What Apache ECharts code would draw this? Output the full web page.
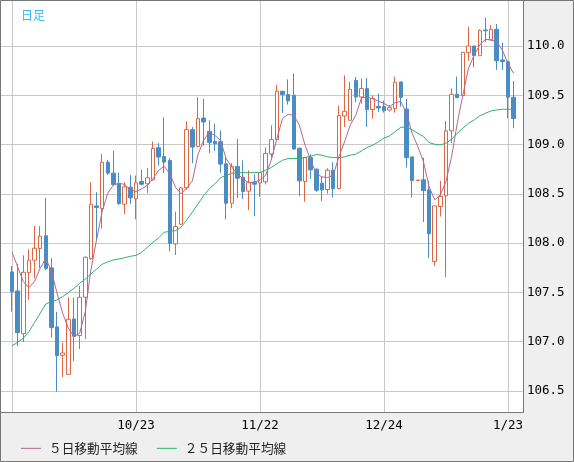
<!DOCTYPE html>
<html>
<head>
<meta charset="utf-8">
<script src="https://cdn.jsdelivr.net/npm/echarts@6/dist/echarts.min.js"></script>
<style>
html,body{margin:0;padding:0;background:#efefef;}
#chart{width:574px;height:462px;}
</style>
</head>
<body>
<div id="chart"></div>
<script>
const dates = [
'9/23','9/24','9/25','9/26','9/27',
'9/30','10/1','10/2','10/3','10/4',
'10/7','10/8','10/9','10/10','10/11',
'10/14','10/15','10/16','10/17','10/18',
'10/21','10/22','10/23','10/24','10/25',
'10/28','10/29','10/30','10/31','11/1',
'11/4','11/5','11/6','11/7','11/8',
'11/11','11/12','11/13','11/14','11/15',
'11/18','11/19','11/20','11/21','11/22',
'11/25','11/26','11/27','11/28','11/29',
'12/2','12/3','12/4','12/5','12/6',
'12/9','12/10','12/11','12/12','12/13',
'12/16','12/17','12/18','12/19','12/20',
'12/23','12/24','12/25','12/26','12/27',
'12/30','12/31','1/1','1/2','1/3',
'1/6','1/7','1/8','1/9','1/10',
'1/13','1/14','1/15','1/16','1/17',
'1/20','1/21','1/22','1/23','1/24'
];
const gridDates = ['9/23','10/23','11/22','12/24','1/23'];
const labelDates = ['10/23','11/22','12/24','1/23'];
const yTicks = [106.5,107.0,107.5,108.0,108.5,109.0,109.5,110.0];

const opens = [
107.708,107.515,107.082,107.701,107.827,107.945,108.074,107.749,107.150,106.862,
106.669,107.231,107.062,107.451,107.843,108.378,108.351,108.821,108.710,108.602,
108.395,108.567,108.449,108.625,108.602,108.642,108.968,108.880,108.839,107.992,
108.192,108.561,109.151,108.981,109.269,109.134,109.032,109.029,108.805,108.405,
108.778,108.669,108.527,108.619,108.611,108.622,108.905,109.051,109.541,109.507,
109.500,108.963,108.625,108.868,108.750,108.608,108.544,108.740,108.554,109.290,
109.246,109.652,109.483,109.568,109.355,109.388,109.385,109.351,109.365,109.635,
109.361,108.875,108.635,108.642,108.541,107.814,108.372,108.480,109.139,109.510,
109.497,109.932,110.000,109.902,110.162,110.061,110.169,109.858,109.841,109.480
];
const closes = [
107.508,107.092,107.705,107.827,107.948,108.070,107.742,107.143,106.859,106.886,
107.228,107.055,107.451,107.857,108.395,108.361,108.821,108.710,108.595,108.402,
108.571,108.460,108.612,108.598,108.663,108.961,108.873,108.822,107.998,108.168,
108.561,109.151,108.975,109.263,109.229,109.022,109.008,108.802,108.405,108.778,
108.659,108.524,108.619,108.598,108.716,108.909,109.051,109.541,109.507,109.443,
108.956,108.632,108.868,108.743,108.537,108.541,108.740,108.551,109.294,109.338,
109.561,109.483,109.568,109.355,109.466,109.371,109.345,109.375,109.632,109.480,
108.868,108.635,108.640,108.534,108.095,108.378,108.473,109.139,109.510,109.476,
109.936,110.000,109.902,110.155,110.155,110.169,109.851,109.841,109.480,109.264
];
const lows = [
107.305,106.957,106.997,107.427,107.644,107.745,107.728,107.041,106.493,106.642,
106.669,106.805,106.926,107.028,107.830,108.033,108.148,108.693,108.581,108.388,
108.294,108.400,108.242,108.585,108.507,108.636,108.785,108.710,107.917,107.880,
108.185,108.541,108.812,108.975,108.988,108.914,108.934,108.714,108.242,108.354,
108.459,108.446,108.337,108.273,108.470,108.595,108.865,109.044,109.321,109.405,
108.949,108.476,108.419,108.652,108.520,108.426,108.503,108.463,108.547,109.179,
109.246,109.432,109.415,109.179,109.263,109.331,109.324,109.334,109.324,109.385,
108.767,108.463,108.633,108.213,107.848,107.770,108.270,107.655,109.014,109.470,
109.497,109.851,109.784,109.902,110.044,110.061,109.757,109.757,109.267,109.166
];
const highs = [
107.769,107.789,107.877,107.938,108.175,108.172,108.459,107.847,107.302,106.991,
107.451,107.448,107.566,107.864,108.618,108.517,108.906,108.845,108.937,108.717,
108.618,108.690,108.686,108.744,108.764,109.032,109.015,109.276,108.863,108.320,
108.568,109.236,109.178,109.480,109.466,109.246,109.212,109.144,108.873,108.812,
109.056,108.839,108.737,108.697,108.723,108.970,109.196,109.608,109.544,109.662,
109.720,108.970,108.875,108.902,108.757,108.672,108.760,108.821,109.395,109.703,
109.635,109.686,109.669,109.676,109.500,109.517,109.446,109.402,109.689,109.639,
109.463,108.875,108.642,108.865,108.632,108.378,108.632,109.240,109.571,109.689,
109.936,110.196,110.000,110.169,110.287,110.213,110.223,110.034,109.851,109.645
];
const ma5 = [
107.908,107.762,107.610,107.549,107.610,107.745,107.847,107.712,107.492,107.288,
107.136,107.052,107.085,107.305,107.728,108.033,108.321,108.507,108.591,108.608,
108.595,108.540,108.524,108.551,108.585,108.653,108.737,108.781,108.703,108.568,
108.500,108.560,108.630,108.900,109.042,109.127,109.093,109.042,108.856,108.771,
108.703,108.653,108.610,108.620,108.639,108.689,108.841,109.061,109.264,109.307,
109.297,109.196,108.993,108.841,108.706,108.672,108.666,108.689,108.875,109.027,
109.196,109.297,109.473,109.483,109.466,109.440,109.418,109.385,109.426,109.436,
109.318,109.115,108.980,108.828,108.574,108.439,108.490,108.625,108.878,109.216,
109.503,109.774,109.909,110.010,110.068,110.061,110.044,109.959,109.824,109.723
];
const ma25 = [
106.957,106.994,107.035,107.102,107.194,107.288,107.383,107.407,107.424,107.458,
107.498,107.542,107.593,107.634,107.688,107.735,107.786,107.810,107.830,107.840,
107.852,107.866,107.876,107.907,107.958,108.008,108.053,108.110,108.120,108.127,
108.161,108.236,108.314,108.398,108.483,108.551,108.602,108.663,108.686,108.710,
108.714,108.714,108.715,108.716,108.716,108.740,108.767,108.807,108.841,108.858,
108.858,108.858,108.868,108.882,108.899,108.892,108.875,108.868,108.868,108.875,
108.892,108.902,108.936,108.970,108.993,109.027,109.066,109.088,109.132,109.176,
109.176,109.149,109.115,109.081,109.020,109.003,108.997,109.014,109.054,109.115,
109.166,109.216,109.250,109.291,109.318,109.341,109.351,109.358,109.358,109.358
];

const candles = opens.map((o, i) => [o, closes[i], lows[i], highs[i]]);

const Y_MIN = 106.287, Y_MAX = 110.4565;
const UP = '#dd6644', DOWN = '#4a8cc4';
const MONO = '"DejaVu Sans Mono", monospace';
const JP = '"Noto Sans CJK JP", sans-serif';

const chart = echarts.init(document.getElementById('chart'), null, {renderer: 'canvas'});
chart.setOption({
  animation: false,
  backgroundColor: '#efefef',
  title: {
    text: '日足', left: 16, top: 4,
    textStyle: {color: '#33bbee', fontSize: 12, fontWeight: 'normal', fontFamily: JP}
  },
  legend: {
    left: 16, top: 437, itemGap: 19, itemWidth: 20, itemHeight: 1, icon: 'rect',
    data: ['５日移動平均線', '２５日移動平均線'],
    textStyle: {color: '#222', fontSize: 12.7, fontFamily: JP, padding: [0, 0, 0, 3]}
  },
  grid: [
    {left: 12, right: 60.4, top: 1, bottom: 50},
    {left: 1, right: 51, top: 1, bottom: 50, show: true, backgroundColor: '#ffffff', borderWidth: 0, z: -1}
  ],
  xAxis: [
    {
      type: 'category', gridIndex: 0, data: dates, boundaryGap: false,
      axisLine: {show: false}, axisTick: {show: false},
      axisLabel: {
        interval: (idx, val) => labelDates.includes(val),
        color: '#000', fontSize: 12.5, fontFamily: MONO, margin: 7
      },
      splitLine: {show: true, interval: (idx, val) => gridDates.includes(val), lineStyle: {color: '#c8c8c8', width: 1}}
    },
    {type: 'value', gridIndex: 1, min: 0, max: 1, show: false}
  ],
  yAxis: [
    {type: 'value', gridIndex: 0, min: Y_MIN, max: Y_MAX, show: false},
    {
      type: 'value', gridIndex: 1, min: Y_MIN, max: Y_MAX, position: 'right',
      axisLine: {show: false},
      axisTick: {show: false, customValues: yTicks},
      axisLabel: {customValues: yTicks, formatter: v => v.toFixed(1), color: '#000', fontSize: 12.5, fontFamily: MONO, margin: 4},
      splitLine: {show: true, lineStyle: {color: '#c8c8c8', width: 1}}
    }
  ],
  series: [
    {
      type: 'candlestick', xAxisIndex: 0, yAxisIndex: 0, data: candles, barWidth: 4, clip: false,
      itemStyle: {color: '#ffffff', color0: DOWN, borderColor: UP, borderColor0: DOWN, borderWidth: 1}
    },
    {
      name: '５日移動平均線', type: 'line', xAxisIndex: 0, yAxisIndex: 0, data: ma5,
      showSymbol: false, symbol: 'none', color: '#b8648f', lineStyle: {width: 1, color: '#b8648f'}
    },
    {
      name: '２５日移動平均線', type: 'line', xAxisIndex: 0, yAxisIndex: 0, data: ma25,
      showSymbol: false, symbol: 'none', color: '#2db36f', lineStyle: {width: 1, color: '#2db36f'}
    }
  ],
  graphic: [
    {type: 'line', shape: {x1: 523.5, y1: 0, x2: 523.5, y2: 413}, style: {stroke: '#777', lineWidth: 1}, z: 50},
    {type: 'line', shape: {x1: 0, y1: 412.5, x2: 524, y2: 412.5}, style: {stroke: '#777', lineWidth: 1}, z: 50},
    {type: 'rect', shape: {x: 0.5, y: 0.5, width: 573, height: 461}, style: {fill: 'none', stroke: '#777', lineWidth: 1}, z: 50}
  ]
});
</script>
</body>
</html>
